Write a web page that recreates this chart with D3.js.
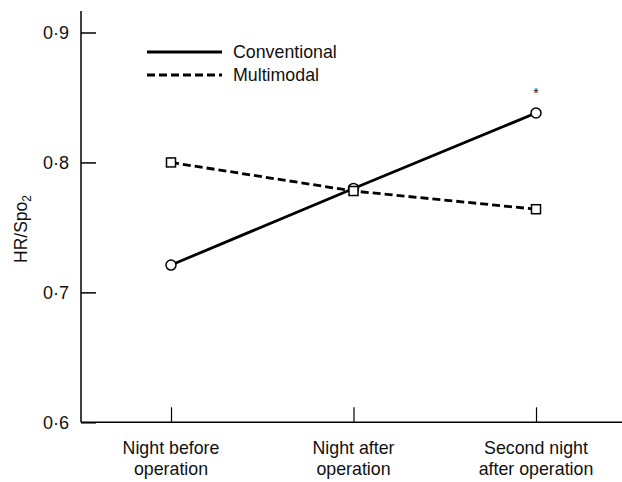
<!DOCTYPE html>
<html>
<head>
<meta charset="utf-8">
<script src="https://cdn.jsdelivr.net/npm/d3@7"></script>
<style>
  html, body { margin: 0; padding: 0; background: #fff; }
  svg { display: block; font-family: "Liberation Sans", Arial, sans-serif; }
</style>
</head>
<body>
<svg id="chart" width="622" height="482"></svg>
<script>
// Nights measured
const categories = ["Night before operation", "Night after operation", "Second night after operation"];
const categoryLines = [["Night before", "operation"], ["Night after", "operation"], ["Second night", "after operation"]];

// Mean HR/SpO2 per group
const conventional = [0.721, 0.780, 0.838];
const multimodal = [0.800, 0.778, 0.764];

// Y ticks
const yTicks = [0.6, 0.7, 0.8, 0.9];
const yTickLabels = ["0·6", "0·7", "0·8", "0·9"];

// Significance marker
const significant = [false, false, true];

const svg = d3.select("#chart");

const x = d3.scalePoint().domain(categories).range([171, 536]);
const y = d3.scaleLinear().domain([0.6, 0.9]).range([422.3, 32.5]);

const axisColor = "#000";

// Y axis (ticks point inward)
const yAxis = d3.axisRight(y).tickValues(yTicks).tickSize(15).tickFormat("");
const gy = svg.append("g").attr("transform", "translate(81,0)").call(yAxis);
gy.select(".domain").remove();
gy.selectAll(".tick line").attr("stroke", axisColor).attr("stroke-width", 1.5);
svg.append("line").attr("x1", 81).attr("x2", 81).attr("y1", 11).attr("y2", y(0.6))
  .attr("stroke", axisColor).attr("stroke-width", 1.5);

svg.append("g").selectAll("text").data(yTicks).join("text")
  .attr("x", 69).attr("y", d => y(d)).attr("dy", "0.35em")
  .attr("text-anchor", "end").attr("font-size", 18).attr("fill", "#111")
  .text((d, i) => yTickLabels[i]);

// X axis (ticks point inward)
const xAxis = d3.axisTop(x).tickSize(15).tickFormat("");
const gx = svg.append("g").attr("transform", `translate(0,${y(0.6)})`).call(xAxis);
gx.select(".domain").remove();
gx.selectAll(".tick line").attr("stroke", axisColor).attr("stroke-width", 1.2);
svg.append("line").attr("x1", 81).attr("x2", 622).attr("y1", y(0.6)).attr("y2", y(0.6))
  .attr("stroke", axisColor).attr("stroke-width", 1.5);

const xl = svg.append("g").selectAll("text").data(categories).join("text")
  .attr("x", d => x(d)).attr("y", 454)
  .attr("text-anchor", "middle").attr("font-size", 17.8).attr("fill", "#111");
xl.each(function(d, i) {
  const t = d3.select(this);
  categoryLines[i].forEach((ln, j) => {
    t.append("tspan").attr("x", x(d)).attr("dy", j === 0 ? 0 : 21).text(ln);
  });
});

// Y axis title
const yt = svg.append("text")
  .attr("transform", "translate(27,229) rotate(-90)")
  .attr("text-anchor", "middle").attr("font-size", 17.5).attr("fill", "#111");
yt.append("tspan").text("HR/Spo");
yt.append("tspan").attr("font-size", 12).attr("dy", 4).text("2");

// Lines
const line = d3.line().x((d, i) => x(categories[i])).y(d => y(d));

svg.append("path").datum(multimodal).attr("d", line)
  .attr("fill", "none").attr("stroke", "#000").attr("stroke-width", 2.8)
  .attr("stroke-dasharray", "8,4");
svg.append("path").datum(conventional).attr("d", line)
  .attr("fill", "none").attr("stroke", "#000").attr("stroke-width", 2.8);

// Markers
svg.append("g").selectAll("circle").data(conventional).join("circle")
  .attr("cx", (d, i) => x(categories[i])).attr("cy", d => y(d)).attr("r", 5)
  .attr("fill", "#fff").attr("stroke", "#000").attr("stroke-width", 1.5);
const sq = 9;
svg.append("g").selectAll("rect").data(multimodal).join("rect")
  .attr("x", (d, i) => x(categories[i]) - sq / 2).attr("y", d => y(d) - sq / 2)
  .attr("width", sq).attr("height", sq)
  .attr("fill", "#fff").attr("stroke", "#000").attr("stroke-width", 1.5);

// Asterisk above significant point
svg.append("g").selectAll("text").data(conventional).join("text")
  .filter((d, i) => significant[i])
  .attr("x", (d, i) => x(categories[2])).attr("y", d => y(d) - 15)
  .attr("text-anchor", "middle").attr("font-size", 14).attr("fill", "#111")
  .text("*");

// Legend
const legend = svg.append("g");
legend.append("line").attr("x1", 147).attr("x2", 222).attr("y1", 52).attr("y2", 52)
  .attr("stroke", "#000").attr("stroke-width", 2.8);
legend.append("line").attr("x1", 147).attr("x2", 222).attr("y1", 75).attr("y2", 75)
  .attr("stroke", "#000").attr("stroke-width", 2.8).attr("stroke-dasharray", "8,4");
legend.append("text").attr("x", 233).attr("y", 52).attr("dy", "0.35em")
  .attr("font-size", 17.8).attr("fill", "#111").text("Conventional");
legend.append("text").attr("x", 233).attr("y", 75).attr("dy", "0.35em")
  .attr("font-size", 17.8).attr("fill", "#111").text("Multimodal");
</script>
</body>
</html>
